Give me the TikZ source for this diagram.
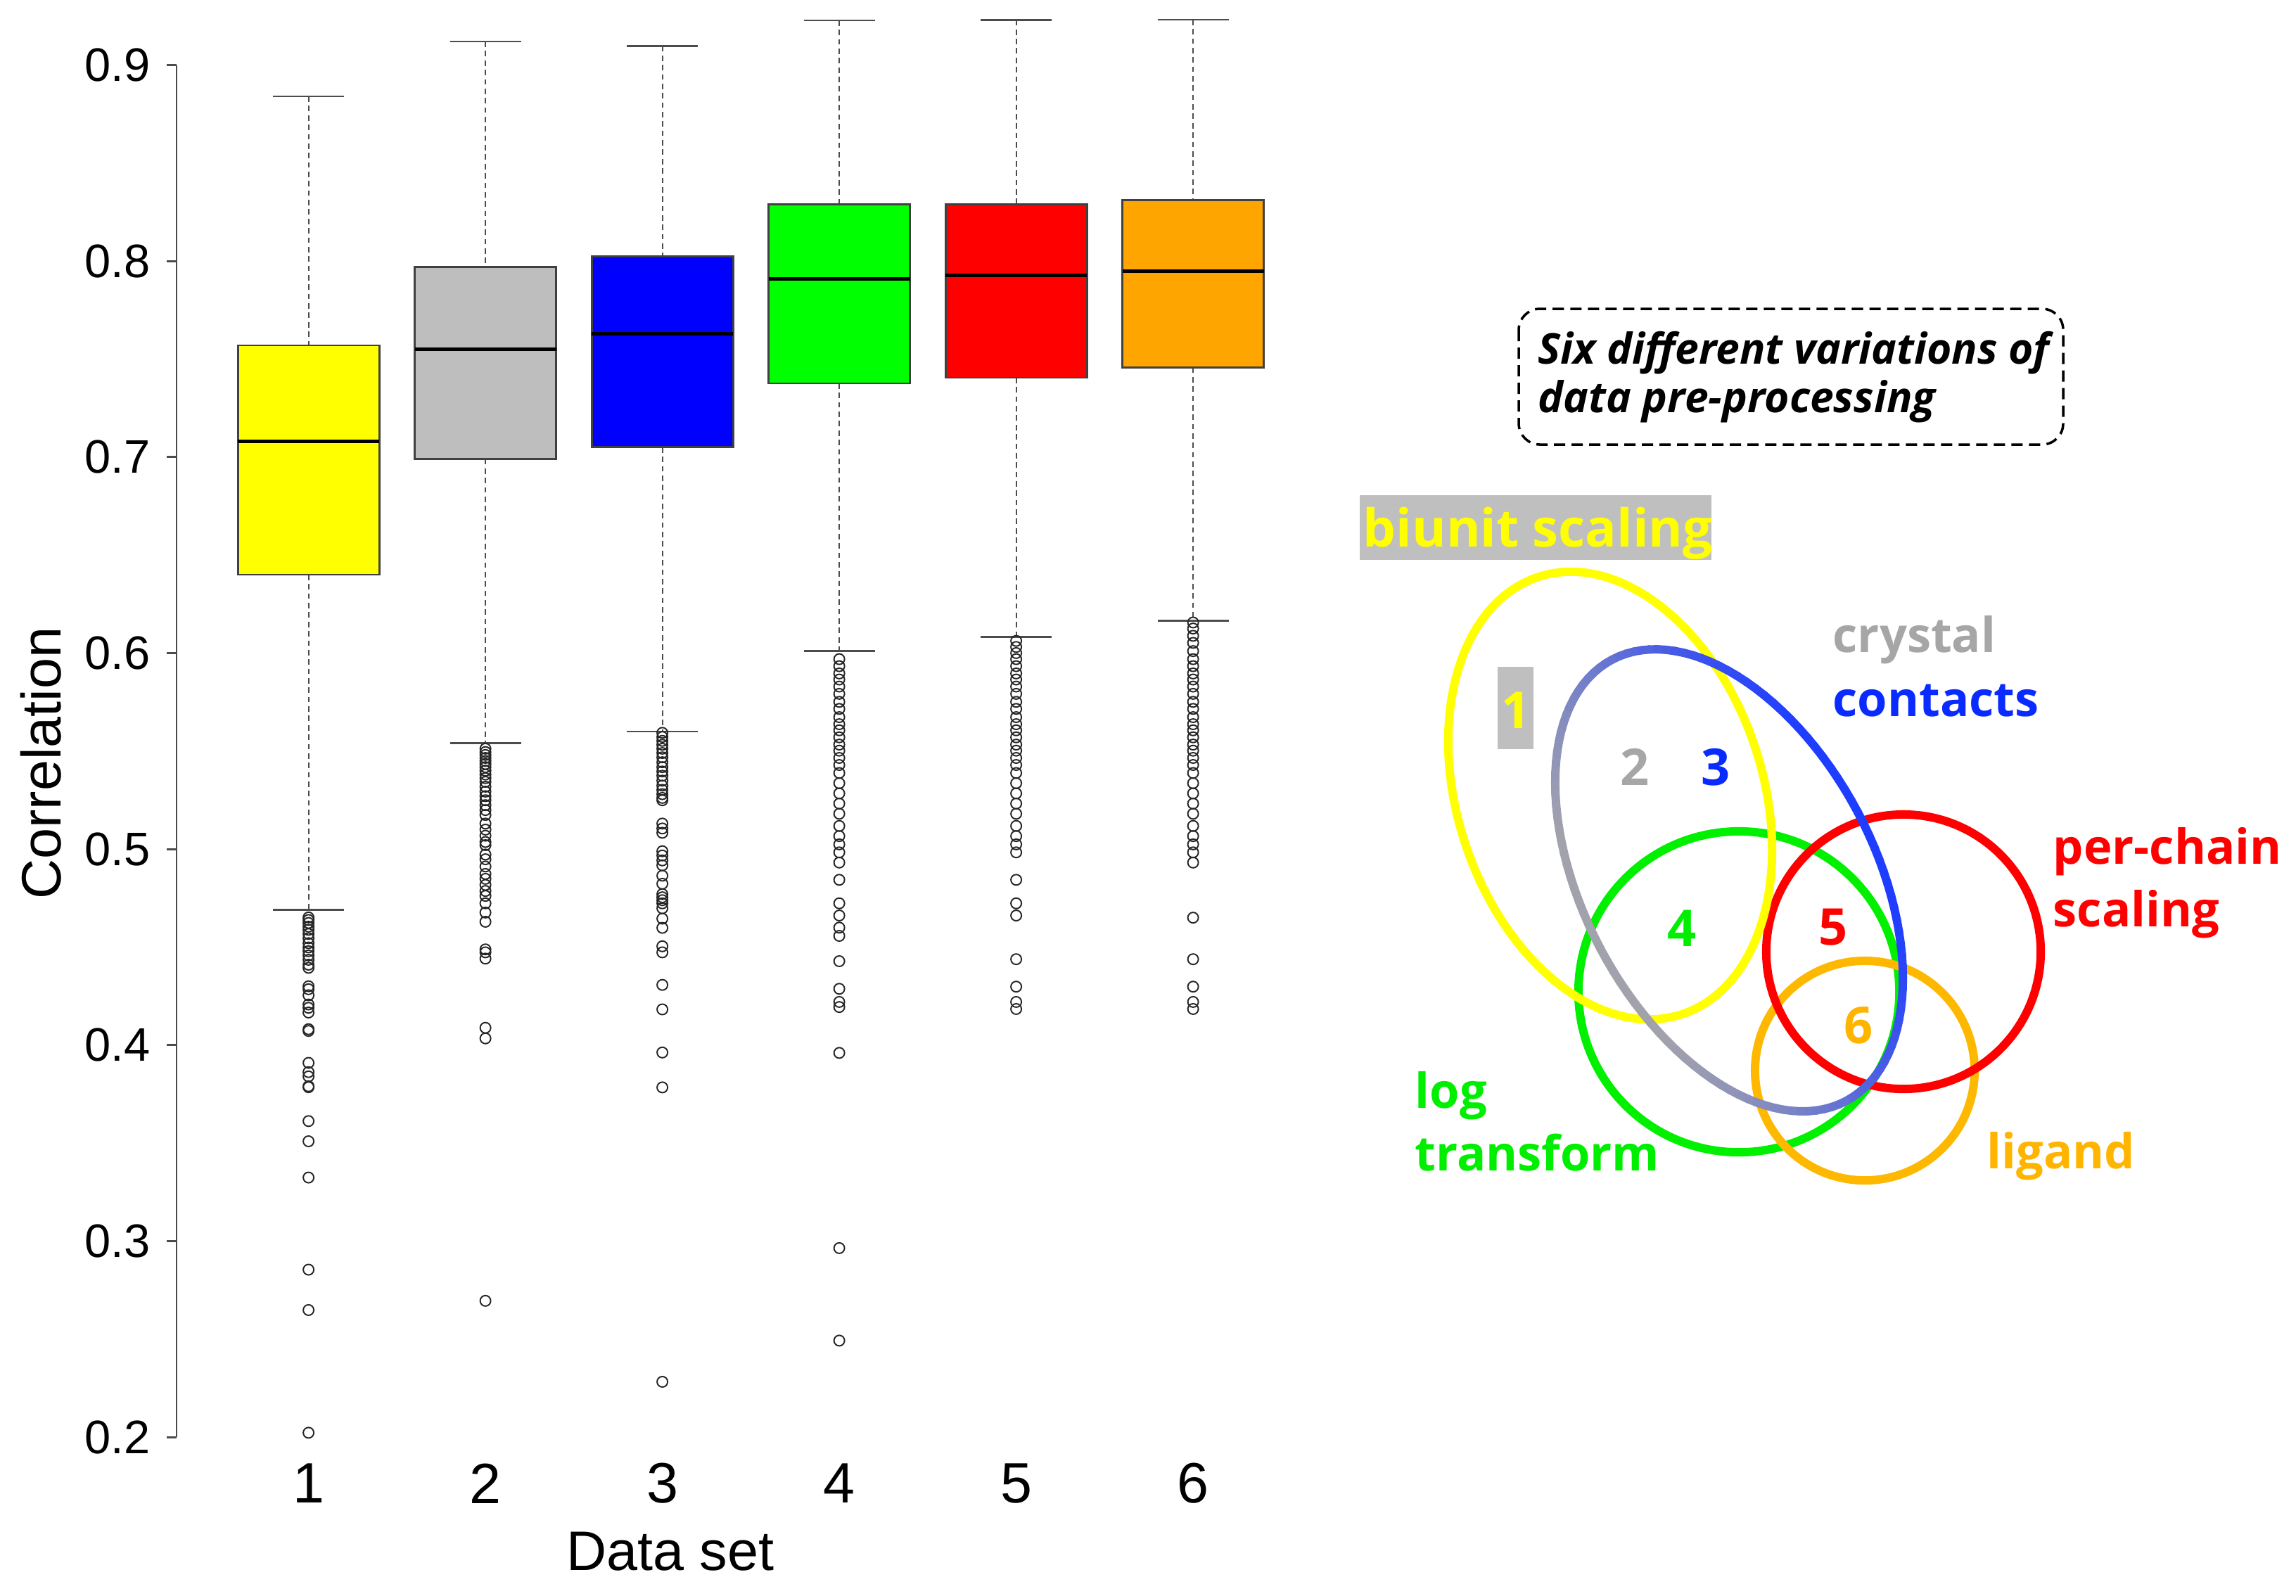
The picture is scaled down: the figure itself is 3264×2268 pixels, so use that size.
\documentclass[tikz,border=0pt]{standalone}
\usepackage{fontspec}
\setmainfont{Liberation Sans}
\newfontfamily\labfont{Open Sans}
\usetikzlibrary{calc}
\definecolor{byellow}{HTML}{FFFF00}
\definecolor{bgray}{HTML}{BEBEBE}
\definecolor{bblue}{HTML}{0000FF}
\definecolor{bgreen}{HTML}{00FF00}
\definecolor{bred}{HTML}{FF0000}
\definecolor{borange}{HTML}{FFA500}
\definecolor{lyellow}{HTML}{FFFF00}
\definecolor{lgray}{HTML}{A6A6A6}
\definecolor{lblue}{HTML}{0A2BFF}
\definecolor{lgreen}{HTML}{00EE00}
\definecolor{lred}{HTML}{FF0000}
\definecolor{lorange}{HTML}{FFB400}
\definecolor{patch}{HTML}{BFBFBF}
\definecolor{vyellowc}{HTML}{FFFF00}
\definecolor{vgreenc}{HTML}{00F000}
\definecolor{vredc}{HTML}{FF0000}
\definecolor{vorangec}{HTML}{FFB800}
\definecolor{vbluec}{HTML}{1F3DFF}
\definecolor{vgrayc}{HTML}{A2A2AC}
\begin{document}
\begin{tikzpicture}[x=0.01cm,y=-0.01cm,
  whisk/.style={draw=black!70, line width=0.6pt, dash pattern=on 2.2pt off 1.6pt},
  capline/.style={draw=black!70, line width=0.75pt},
  boxst/.style={draw=black!75, line width=0.8pt},
  medline/.style={draw=black, line width=1.4pt},
  outl/.style={draw=black!85, line width=0.55pt},
  axisline/.style={draw=black!70, line width=0.85pt},
  ticklab/.style={font=\fontsize{19}{22}\selectfont, anchor=east, inner sep=0pt},
  xlab/.style={font=\fontsize{23}{26}\selectfont, inner sep=0pt},
  axtitle/.style={font=\fontsize{22.5}{26}\selectfont, inner sep=0pt},
  vring/.style={line width=3.4pt},
  vlab/.style={font=\labfont\bfseries\fontsize{19.5}{24}\selectfont, inner sep=0pt, anchor=base west},
  vnum/.style={font=\labfont\bfseries\fontsize{20.5}{24}\selectfont, inner sep=0pt, anchor=base},
  notetext/.style={font=\labfont\bfseries\itshape\fontsize{17.2}{20}\selectfont, inner sep=0pt, anchor=base west}
]
\useasboundingbox (0,0) rectangle (3264,2268);

% ---------- axis ----------
\draw[axisline] (251,92.5) -- (251,2043);
\foreach \v/\nm in {0.2/a,0.3/b,0.4/c,0.5/d,0.6/e,0.7/f,0.8/g,0.9/h}{
  \pgfmathsetmacro\yy{92.5+(0.9-\v)*2786.4}
  \draw[axisline] (237,\yy) -- (251,\yy);
  \node[ticklab] (ytick\nm) at (214,\yy) {\v};
}
\node[axtitle, rotate=90] (ytitle) at (58,1085) {Correlation};
\node[axtitle] (xtitle) at (953,2206) {Data set};

% ---------- boxes ----------
\foreach \i/\col/\lw/\qa/\md/\qc/\uw in {
  1/byellow/0.469/0.640/0.708/0.757/0.884,
  2/bgray/0.554/0.699/0.755/0.797/0.912,
  3/bblue/0.560/0.705/0.763/0.8025/0.9097,
  4/bgreen/0.601/0.7376/0.791/0.829/0.9228,
  5/bred/0.6082/0.7405/0.7928/0.829/0.923,
  6/borange/0.6165/0.7457/0.795/0.831/0.9232}{
  \pgfmathsetmacro\xc{438.6+251.5*(\i-1)}
  \pgfmathsetmacro\yl{92.5+(0.9-\lw)*2786.4}
  \pgfmathsetmacro\yqa{92.5+(0.9-\qa)*2786.4}
  \pgfmathsetmacro\ymd{92.5+(0.9-\md)*2786.4}
  \pgfmathsetmacro\yqc{92.5+(0.9-\qc)*2786.4}
  \pgfmathsetmacro\yu{92.5+(0.9-\uw)*2786.4}
  \draw[whisk] (\xc,\yu) -- (\xc,\yqc);
  \draw[whisk] (\xc,\yqa) -- (\xc,\yl);
  \draw[capline] (\xc-50.5,\yu) -- (\xc+50.5,\yu);
  \draw[capline] (\xc-50.5,\yl) -- (\xc+50.5,\yl);
  \draw[boxst, fill=\col] (\xc-100.5,\yqc) rectangle (\xc+100.5,\yqa);
  \draw[medline] (\xc-100.5,\ymd) -- (\xc+100.5,\ymd);
  \node[xlab] (xtick\i) at (\xc,2109) {\i};
}

% ---------- outliers ----------
\newcommand\outpts[2]{%
  \foreach \v in {#2}{\draw[outl] (#1,{92.5+(0.9-\v)*2786.4}) circle[radius=0.075cm];}}
\outpts{438.6}{0.4651,0.4638,0.4623,0.4604,0.4588,0.4567,0.4545,0.452,0.4498,0.4479,0.4457,0.4435,0.441,0.4394,0.430,0.4285,0.4254,0.4207,0.419,0.4166,0.4081,0.4072,0.3909,0.3862,0.384,0.379,0.3785,0.3612,0.3509,0.3324,0.2854,0.2648,0.2022}
\outpts{690.1}{0.5512,0.5495,0.548,0.5465,0.5449,0.5434,0.5418,0.54,0.538,0.5362,0.5343,0.5318,0.5293,0.527,0.5249,0.5224,0.5199,0.5174,0.513,0.5099,0.5068,0.5036,0.502,0.4972,0.4948,0.4911,0.4873,0.4848,0.4817,0.4786,0.4761,0.4723,0.4676,0.4629,0.4488,0.4473,0.4441,0.4088,0.4034,0.2695}
\outpts{941.6}{0.5593,0.5572,0.5552,0.5532,0.5512,0.549,0.5468,0.5443,0.5418,0.5396,0.5374,0.5349,0.5324,0.5302,0.528,0.5261,0.5249,0.513,0.5105,0.5083,0.4989,0.4967,0.4942,0.4917,0.4864,0.4823,0.477,0.4754,0.4739,0.4723,0.4698,0.4645,0.4598,0.4504,0.4473,0.4307,0.4182,0.3962,0.3784,0.2282}
\outpts{1193.1}{0.5969,0.5933,0.5896,0.5865,0.5829,0.5792,0.5751,0.5715,0.5673,0.5637,0.5606,0.557,0.5533,0.5502,0.5465,0.5429,0.5388,0.5336,0.5284,0.5232,0.518,0.5118,0.5066,0.5024,0.4983,0.4931,0.4843,0.4723,0.4661,0.4599,0.4557,0.4428,0.4287,0.422,0.4194,0.396,0.2964,0.2492}
\outpts{1444.6}{0.6062,0.6031,0.6,0.5969,0.5933,0.5896,0.5865,0.5829,0.5792,0.5751,0.5715,0.5673,0.5637,0.5606,0.557,0.5533,0.5502,0.5465,0.5429,0.5388,0.5336,0.5284,0.5232,0.518,0.5118,0.5066,0.5024,0.4983,0.4843,0.4723,0.4661,0.4438,0.4298,0.422,0.4184}
\outpts{1696.1}{0.6156,0.6125,0.6088,0.6052,0.601,0.5969,0.5933,0.5896,0.5865,0.5829,0.5792,0.5751,0.5715,0.5673,0.5637,0.5606,0.557,0.5533,0.5502,0.5465,0.5429,0.5388,0.5336,0.5284,0.5232,0.518,0.5118,0.5066,0.5024,0.4983,0.4931,0.465,0.4438,0.4298,0.422,0.4184}

% ---------- note box ----------
\draw[line width=1pt, dash pattern=on 0.16cm off 0.09cm, rounded corners=0.3cm] (2159,439) rectangle (2933,632);
\node[notetext] (note1) at (2186,517) {Six different variations of};
\node[notetext] (note2) at (2186,586) {data pre-processing};

% ---------- venn ----------
\draw[vring, vgreenc] (2472,1410) circle[radius=2.28cm];
\draw[vring, vorangec] (2651,1522) circle[radius=1.56cm];
\draw[vring, vredc] (2706,1353) circle[radius=1.95cm];
\draw[vring, vyellowc, rotate around={18.2:(2289,1131)}] (2289,1131) ellipse[x radius=2.17cm, y radius=3.27cm];
\foreach \t in {0,3,...,357}{
  \pgfmathtruncatemacro\p{max(0,min(100,50+55*sin(\t+1.5)))}
  \draw[vring, line cap=round, color=vbluec!\p!vgrayc]
    ({2458+355*cos(\t)*0.468+207*sin(\t)*0.884},{1251.5+355*cos(\t)*0.884-207*sin(\t)*0.468}) --
    ({2458+355*cos(\t+3)*0.468+207*sin(\t+3)*0.884},{1251.5+355*cos(\t+3)*0.884-207*sin(\t+3)*0.468});
}

% patches
\fill[patch] (1933,704) rectangle (2433,796);
\node[vlab, lyellow, font=\labfont\bfseries\fontsize{21.1}{24}\selectfont] (biunit) at (1937,777) {biunit scaling};
\fill[patch] (2129,948) rectangle (2180,1065);
\node[vnum, lyellow] (n1) at (2155,1035) {1};
\node[vnum, lgray] (n2) at (2324,1116) {2};
\node[vnum, lblue] (n3) at (2439,1116) {3};
\node[vnum, lgreen] (n4) at (2391,1345) {4};
\node[vnum, lred] (n5) at (2606,1343) {5};
\node[vnum, lorange] (n6) at (2642,1483) {6};

\node[vlab, lgray] (crystal) at (2605,927) {crystal};
\node[vlab, lblue] (contacts) at (2605,1018) {contacts};
\node[vlab, lred] (perchain) at (2918,1228) {per-chain};
\node[vlab, lred] (scaling) at (2918,1317) {scaling};
\node[vlab, lgreen] (log) at (2011,1575) {log};
\node[vlab, lgreen] (transform) at (2011,1664) {transform};
\node[vlab, lorange] (ligand) at (2824,1661) {ligand};
\end{tikzpicture}
\end{document}
